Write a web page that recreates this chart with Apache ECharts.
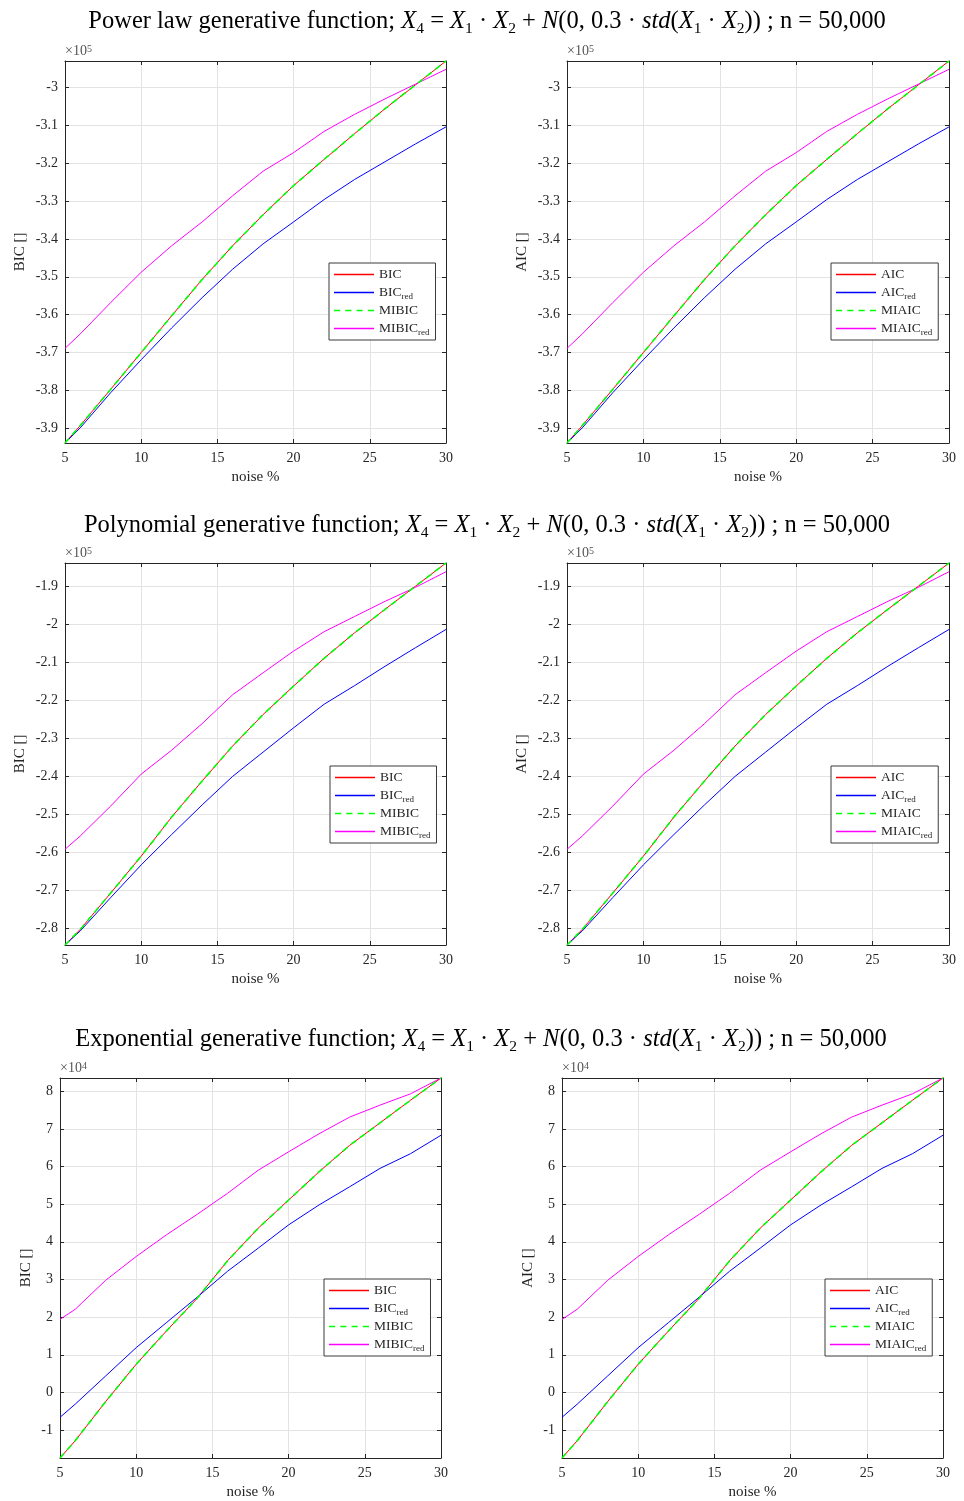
<!DOCTYPE html>
<html>
<head>
<meta charset="utf-8">
<script src="https://cdn.jsdelivr.net/npm/echarts@6/dist/echarts.min.js"></script>
<style>
  html, body { margin: 0; padding: 0; background: #fff; }
  #main { width: 964px; height: 1501px; }
</style>
</head>
<body>
<div id="main"></div>
<script>
// noise levels (x axis)
var noise = [5, 6, 8, 10, 12, 14, 16, 18, 20, 22, 24, 26, 28, 30];

// power law, values in units of 1e5
var powIC      = [-3.939, -3.893, -3.797, -3.700, -3.603, -3.507, -3.418, -3.336, -3.259, -3.190, -3.122, -3.056, -2.993, -2.930];
var powICred   = [-3.939, -3.899, -3.806, -3.719, -3.635, -3.555, -3.480, -3.413, -3.355, -3.296, -3.243, -3.196, -3.149, -3.104];
var powMIICred = [-3.689, -3.651, -3.568, -3.488, -3.418, -3.355, -3.286, -3.221, -3.172, -3.116, -3.071, -3.030, -2.991, -2.952];

// polynomial, values in units of 1e5
var polIC      = [-2.845, -2.804, -2.708, -2.611, -2.508, -2.413, -2.321, -2.238, -2.163, -2.090, -2.023, -1.961, -1.900, -1.839];
var polICred   = [-2.845, -2.808, -2.720, -2.634, -2.554, -2.476, -2.401, -2.337, -2.273, -2.211, -2.162, -2.111, -2.062, -2.014];
var polMIICred = [-2.593, -2.558, -2.479, -2.395, -2.332, -2.262, -2.186, -2.128, -2.071, -2.020, -1.980, -1.940, -1.903, -1.862];

// exponential, values in units of 1e4
var expIC      = [-1.74, -1.28, -0.24, 0.75, 1.64, 2.50, 3.50, 4.36, 5.11, 5.86, 6.56, 7.16, 7.76, 8.35];
var expICred   = [-0.66, -0.31, 0.44, 1.19, 1.86, 2.53, 3.22, 3.83, 4.45, 4.98, 5.46, 5.95, 6.34, 6.83];
var expMIICred = [1.94, 2.21, 2.98, 3.61, 4.19, 4.73, 5.29, 5.90, 6.39, 6.87, 7.31, 7.63, 7.93, 8.35];

// MI* curves sit exactly on top of the plain criterion (dashed green over red)
var powMIIC = powIC, polMIIC = polIC, expMIIC = expIC;

var formula = '; {i|X}{s|4} = {i|X}{s|1} · {i|X}{s|2} + {i|N}(0, 0.3 · {i|std}({i|X}{s|1} · {i|X}{s|2})) ; n = 50,000';
var titles = ['Power law generative function', 'Polynomial generative function', 'Exponential generative function'];
var exps = [5, 5, 4];
var rowData = [
  [powIC, powICred, powMIIC, powMIICred],
  [polIC, polICred, polMIIC, polMIICred],
  [expIC, expICred, expMIIC, expMIICred]
];

var FONT = 'Liberation Serif';
var TXT = '#262626';

// layout (pixels)
var rows = [
  { titleX: 487, titleY: 22, top: 61, h: 382, lefts: [65, 567], widths: [381, 382], legTop: 263, legLefts: [329, 831], nameGap: 37 },
  { titleX: 487, titleY: 526, top: 563, h: 382, lefts: [65, 567], widths: [381, 382], legTop: 766, legLefts: [330, 831], nameGap: 37 },
  { titleX: 481, titleY: 1040, top: 1078, h: 381, lefts: [60, 562], widths: [381, 381], legTop: 1279, legLefts: [324, 825], nameGap: 26 }
];

var styles = [
  { color: '#ff0000', width: 1, type: 'solid' },
  { color: '#0000ff', width: 1, type: 'solid' },
  { color: '#00ff00', width: 1.6, type: [6, 5] },
  { color: '#ff00ff', width: 1, type: 'solid' }
];
// legend samples: solid bar, or four dashes for the dashed series
var SOLID = 'rect';
var DASHED = 'path://M0,0h6v1h-6zM11,0h6v1h-6zM22,0h6v1h-6zM33,0h6v1h-6z';

var chart = echarts.init(document.getElementById('main'));

var option = {
  animation: false,
  backgroundColor: '#fff',
  grid: [], xAxis: [], yAxis: [], series: [], legend: [], graphic: []
};

function pair(d) {
  return noise.map(function (x, i) { return [x, d[i]]; });
}

// series names carry a "#panel" suffix so every legend finds its own series
function legendText(n) {
  return n.split('#')[0].replace('red', '{s|red}');
}

rows.forEach(function (row, r) {
  option.graphic.push({
    type: 'text', x: row.titleX, y: row.titleY,
    style: {
      text: titles[r] + formula,
      fontFamily: FONT, fontSize: 24.5, fill: '#000', lineHeight: 30,
      align: 'center', verticalAlign: 'middle',
      rich: {
        i: { fontFamily: FONT, fontSize: 24.5, fontStyle: 'italic', lineHeight: 30 },
        s: { fontFamily: FONT, fontSize: 15.5, lineHeight: 16, verticalAlign: 'bottom' }
      }
    }
  });

  var data = rowData[r];
  var all = data[0].concat(data[1], data[2], data[3]);
  var ymin = Math.min.apply(null, all), ymax = Math.max.apply(null, all);

  [0, 1].forEach(function (c) {
    var gi = r * 2 + c;
    var ic = c === 0 ? 'BIC' : 'AIC';
    var names = [ic, ic + 'red', 'MI' + ic, 'MI' + ic + 'red'].map(function (n) { return n + '#' + gi; });
    var left = row.lefts[c];

    option.grid.push({ left: left, top: row.top, width: row.widths[c], height: row.h });

    var tick = { show: true, inside: true, length: 4, lineStyle: { color: TXT } };
    var line = { show: true, onZero: false, lineStyle: { color: TXT, width: 1 } };
    var lab = { color: TXT, fontFamily: FONT, fontSize: 14 };

    option.xAxis.push({
      type: 'value', gridIndex: gi, position: 'bottom', min: 5, max: 30, interval: 5,
      axisLine: line, axisTick: tick,
      axisLabel: Object.assign({ margin: 8 }, lab),
      splitLine: { show: true, lineStyle: { color: '#e3e3e3' } },
      name: 'noise %', nameLocation: 'middle', nameGap: 27,
      nameTextStyle: { color: TXT, fontFamily: FONT, fontSize: 15 }
    });
    option.xAxis.push({
      type: 'value', gridIndex: gi, position: 'top', min: 5, max: 30, interval: 5,
      axisLine: line, axisTick: tick, axisLabel: { show: false }, splitLine: { show: false }
    });
    option.yAxis.push({
      type: 'value', gridIndex: gi, position: 'left', min: ymin, max: ymax, splitNumber: 10,
      axisLine: line, axisTick: tick,
      axisLabel: Object.assign({ margin: 7, showMinLabel: false, showMaxLabel: false }, lab),
      splitLine: { show: true, lineStyle: { color: '#e3e3e3' } },
      name: ic + ' []', nameLocation: 'middle', nameGap: row.nameGap,
      nameTextStyle: { color: TXT, fontFamily: FONT, fontSize: 15 }
    });
    option.yAxis.push({
      type: 'value', gridIndex: gi, position: 'right', min: ymin, max: ymax, splitNumber: 10,
      axisLine: line, axisTick: tick, axisLabel: { show: false }, splitLine: { show: false }
    });

    names.forEach(function (nm, k) {
      option.series.push({
        type: 'line', name: nm, xAxisIndex: gi * 2, yAxisIndex: gi * 2,
        data: pair(data[k]), symbol: 'none', color: styles[k].color,
        lineStyle: styles[k], z: k === 2 ? 4 : 3
      });
    });

    option.legend.push({
      orient: 'vertical', left: row.legLefts[c], top: row.legTop,
      data: names.map(function (nm, k) {
        return {
          name: nm,
          icon: k === 2 ? DASHED : SOLID,
          itemStyle: { color: styles[k].color, borderWidth: 0 }
        };
      }),
      selectedMode: false,
      itemWidth: 40, itemHeight: 1.3, itemGap: 1,
      symbolKeepAspect: false,
      padding: [3, 6, 3, 5],
      borderColor: '#3a3a3a', borderWidth: 1, backgroundColor: '#fff',
      formatter: legendText,
      textStyle: {
        color: TXT, fontFamily: FONT, fontSize: 13.5, lineHeight: 17,
        rich: { s: { color: TXT, fontFamily: FONT, fontSize: 9, lineHeight: 9, verticalAlign: 'bottom' } }
      }
    });

    option.graphic.push({
      type: 'text', x: left, y: row.top - 17,
      style: {
        text: '×10{p|' + exps[r] + '}', fontFamily: FONT, fontSize: 14, fill: '#555',
        lineHeight: 15,
        rich: { p: { fontFamily: FONT, fontSize: 10, fill: '#555', lineHeight: 9, verticalAlign: 'top' } }
      }
    });
  });
});

chart.setOption(option);
</script>
</body>
</html>
